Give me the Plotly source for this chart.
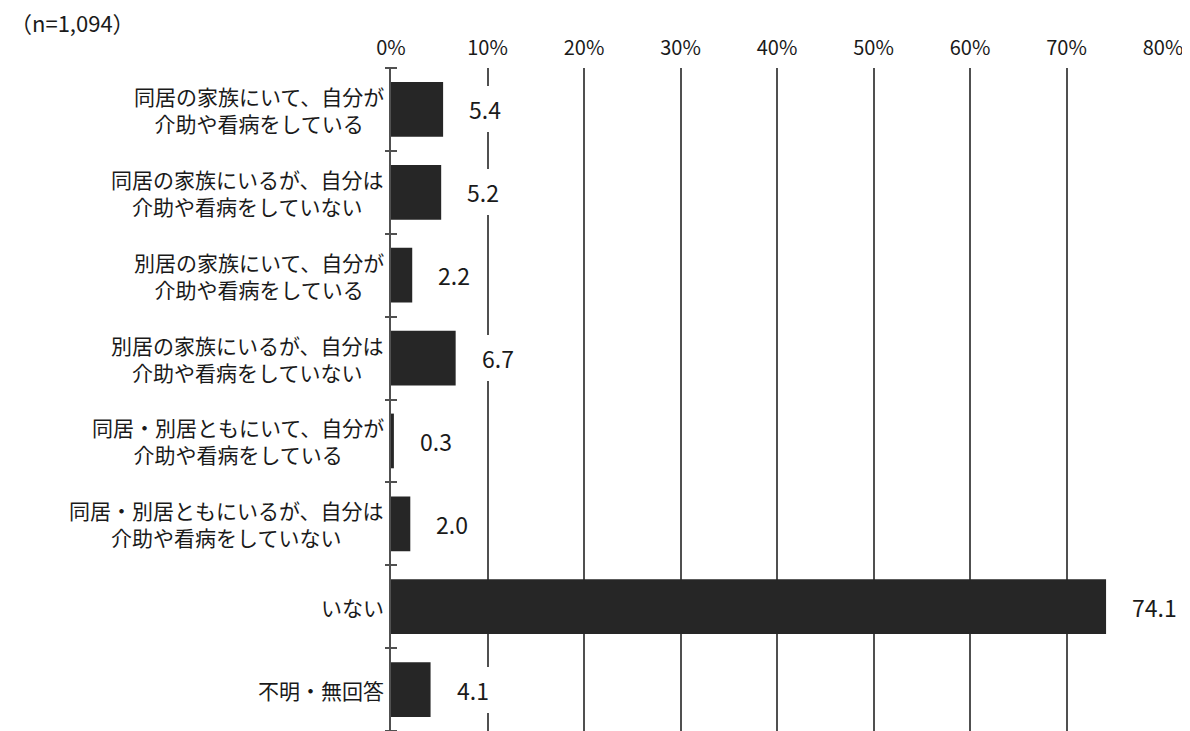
import plotly.graph_objects as go

categories = [
    "同居の家族にいて、自分が<br>介助や看病をしている",
    "同居の家族にいるが、自分は<br>介助や看病をしていない",
    "別居の家族にいて、自分が<br>介助や看病をしている",
    "別居の家族にいるが、自分は<br>介助や看病をしていない",
    "同居・別居ともにいて、自分が<br>介助や看病をしている",
    "同居・別居ともにいるが、自分は<br>介助や看病をしていない",
    "いない",
    "不明・無回答",
]
values = [5.4, 5.2, 2.2, 6.7, 0.3, 2.0, 74.1, 4.1]
x_ticks = [0, 10, 20, 30, 40, 50, 60, 70, 80]
sample_note = "（n=1,094）"

NUM_FONT = "Noto Sans CJK JP"
JP_FONT = "Noto Sans CJK JP"
LINE = "#505050"

# page body has an 8px margin; figure sized so it ends at the window edge
W, H = 1182, 723
ML, MR, MT, MB = 383, 27, 60, 0
plot_w = W - ML - MR

ypos = list(range(len(categories)))
bounds = [i - 0.5 for i in range(len(categories) + 1)]

fig = go.Figure()
fig.add_trace(go.Bar(
    x=values, y=ypos, orientation="h",
    marker=dict(color="#262626", line=dict(width=0)),
    hoverinfo="skip", showlegend=False,
))
fig.add_trace(go.Scatter(x=[None], y=[None], yaxis="y2", showlegend=False))

annotations = []
for i, (c, v) in enumerate(zip(categories, values)):
    annotations.append(dict(
        x=0, y=i, xref="x", yref="y", text=c, showarrow=False,
        xanchor="right", yanchor="middle", xshift=-5, align="center",
        font=dict(family=JP_FONT, size=21, color="#1a1a1a"),
    ))
    annotations.append(dict(
        x=v, y=i, xref="x", yref="y", text=f"{v:.1f}", showarrow=False,
        xanchor="left", yanchor="middle", xshift=20,
        bgcolor="white", borderpad=6, borderwidth=0,
        font=dict(family=NUM_FONT, size=23, color="#1a1a1a"),
    ))
annotations.append(dict(
    x=0, y=1, xref="paper", yref="paper", text=sample_note, showarrow=False,
    xanchor="left", yanchor="middle", xshift=-ML + 2, yshift=46,
    borderpad=0, borderwidth=0,
    font=dict(family=NUM_FONT, size=22, color="#1a1a1a"),
))

fig.update_layout(
    width=W, height=H,
    margin=dict(l=ML, r=MR, t=MT, b=MB, pad=0, autoexpand=False),
    paper_bgcolor="white", plot_bgcolor="white",
    bargap=0.34,
    annotations=annotations,
    xaxis=dict(
        side="top", range=[0, 80], tickvals=x_ticks,
        ticktext=[f"{t}%" for t in x_ticks],
        showgrid=True, gridcolor=LINE, gridwidth=2,
        zeroline=False, showline=False, ticks="", automargin=False,
        ticklabelstandoff=8,
        tickfont=dict(family=NUM_FONT, size=20, color="#1a1a1a"),
        fixedrange=True,
    ),
    yaxis=dict(
        range=[len(categories) - 0.5, -0.5],
        showticklabels=False, automargin=False, ticks="",
        showline=True, linecolor=LINE, linewidth=2,
        showgrid=False, zeroline=False,
    ),
    yaxis2=dict(
        overlaying="y", matches="y", side="left", anchor="free",
        position=6 / plot_w,
        tickvals=bounds, showticklabels=False, automargin=False,
        ticks="outside", ticklen=12, tickwidth=2, tickcolor=LINE,
        showline=False, showgrid=False, zeroline=False,
    ),
)

fig.write_html("out.html")
